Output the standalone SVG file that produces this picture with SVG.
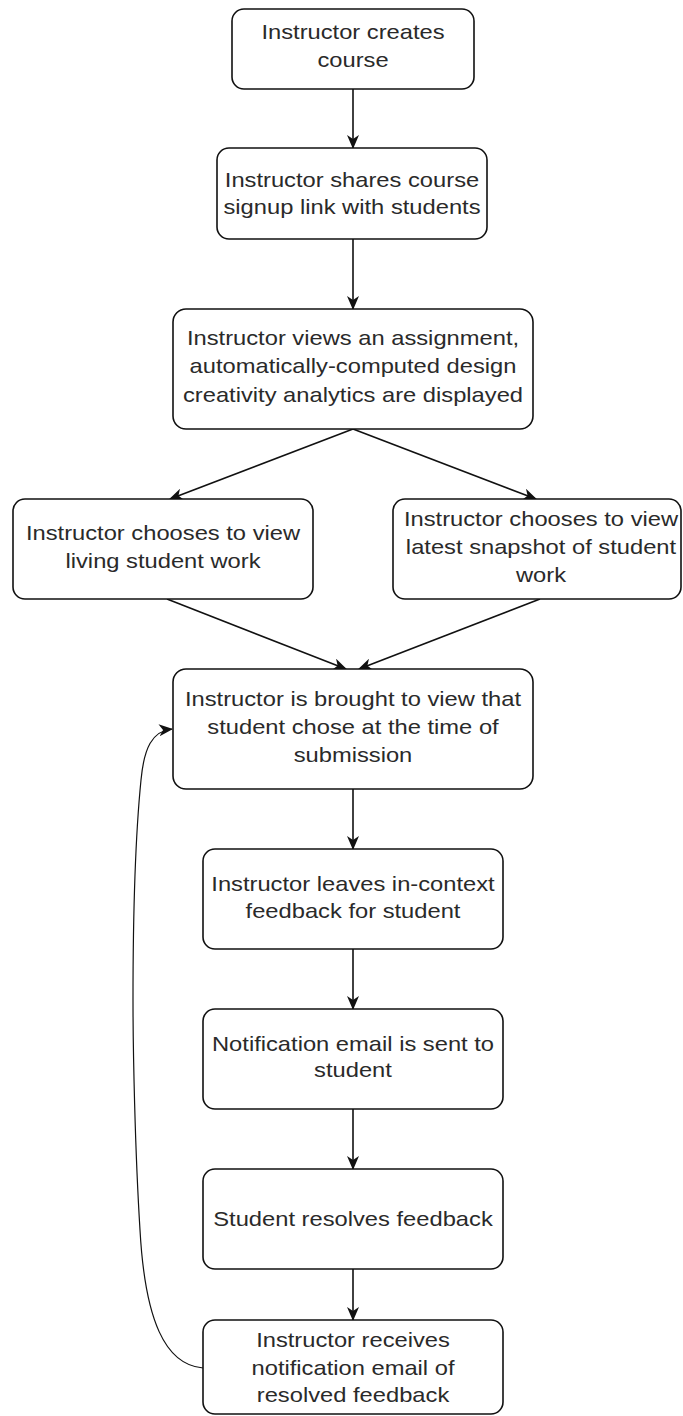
<svg xmlns="http://www.w3.org/2000/svg" width="683" height="1416" viewBox="0 0 683 1416">
<defs>
<style>
.box{fill:#ffffff;stroke:#111111;stroke-width:1.6}
.lbl{font-family:"Liberation Sans",Arial,Helvetica,sans-serif;font-size:21px;fill:#2a2a2a;text-anchor:middle}
.edge{fill:none;stroke:#111111;stroke-width:1.6}
.thin{fill:none;stroke:#111111;stroke-width:1.2}
</style>
<marker id="arr" viewBox="0 0 14 12" markerWidth="14" markerHeight="12" refX="13" refY="6" orient="auto" markerUnits="userSpaceOnUse">
<path d="M0,0 L14,6 L0,12 L4,6 z" fill="#111111"/>
</marker>
</defs>
<rect width="683" height="1416" fill="#ffffff"/>
<g id="connectors">
<line class="edge" x1="353" y1="89" x2="353" y2="148" marker-end="url(#arr)"/>
<line class="edge" x1="353" y1="239" x2="353" y2="309" marker-end="url(#arr)"/>
<line class="edge" x1="353" y1="429" x2="170" y2="499" marker-end="url(#arr)"/>
<line class="edge" x1="353" y1="429" x2="536" y2="499" marker-end="url(#arr)"/>
<line class="edge" x1="167" y1="599" x2="346" y2="669" marker-end="url(#arr)"/>
<line class="edge" x1="540" y1="599" x2="359" y2="669" marker-end="url(#arr)"/>
<line class="edge" x1="353" y1="789" x2="353" y2="849" marker-end="url(#arr)"/>
<line class="edge" x1="353" y1="949" x2="353" y2="1009" marker-end="url(#arr)"/>
<line class="edge" x1="353" y1="1109" x2="353" y2="1169" marker-end="url(#arr)"/>
<line class="edge" x1="353" y1="1269" x2="353" y2="1320" marker-end="url(#arr)"/>
<path class="thin" d="M203 1368 C165 1365 145 1320 140 1230 C135 1150 133 1050 133 1000 C133 900 137 820 141 780 C144 748 152 731 172 729" marker-end="url(#arr)"/>
</g>
<g id="n1">
<rect class="box" x="232" y="9" width="242" height="80" rx="12"/>
<text class="lbl" transform="translate(353 0) scale(1.13 1)"><tspan x="0" y="39">Instructor creates</tspan><tspan x="0" y="67">course</tspan></text>
</g>
<g id="n2">
<rect class="box" x="217" y="148" width="270" height="91" rx="12"/>
<text class="lbl" transform="translate(352 0) scale(1.13 1)"><tspan x="0" y="187">Instructor shares course</tspan><tspan x="0" y="214">signup link with students</tspan></text>
</g>
<g id="n3">
<rect class="box" x="173" y="309" width="360" height="120" rx="13"/>
<text class="lbl" transform="translate(353 0) scale(1.13 1)"><tspan x="0" y="345">Instructor views an assignment,</tspan><tspan x="0" y="373">automatically-computed design</tspan><tspan x="0" y="402">creativity analytics are displayed</tspan></text>
</g>
<g id="n4">
<rect class="box" x="13" y="499" width="300" height="100" rx="12"/>
<text class="lbl" transform="translate(163 0) scale(1.13 1)"><tspan x="0" y="540">Instructor chooses to view</tspan><tspan x="0" y="568">living student work</tspan></text>
</g>
<g id="n5">
<rect class="box" x="393" y="499" width="288" height="100" rx="12"/>
<text class="lbl" transform="translate(541 0) scale(1.13 1)"><tspan x="0" y="526">Instructor chooses to view</tspan><tspan x="0" y="554">latest snapshot of student</tspan><tspan x="0" y="582">work</tspan></text>
</g>
<g id="n6">
<rect class="box" x="173" y="669" width="360" height="120" rx="13"/>
<text class="lbl" transform="translate(353 0) scale(1.13 1)"><tspan x="0" y="706">Instructor is brought to view that</tspan><tspan x="0" y="734">student chose at the time of</tspan><tspan x="0" y="762">submission</tspan></text>
</g>
<g id="n7">
<rect class="box" x="203" y="849" width="300" height="100" rx="12"/>
<text class="lbl" transform="translate(353 0) scale(1.13 1)"><tspan x="0" y="891">Instructor leaves in-context</tspan><tspan x="0" y="918">feedback for student</tspan></text>
</g>
<g id="n8">
<rect class="box" x="203" y="1009" width="300" height="100" rx="12"/>
<text class="lbl" transform="translate(353 0) scale(1.13 1)"><tspan x="0" y="1051">Notification email is sent to</tspan><tspan x="0" y="1077">student</tspan></text>
</g>
<g id="n9">
<rect class="box" x="203" y="1169" width="300" height="100" rx="12"/>
<text class="lbl" transform="translate(353 0) scale(1.13 1)"><tspan x="0" y="1226">Student resolves feedback</tspan></text>
</g>
<g id="n10">
<rect class="box" x="203" y="1320" width="300" height="94" rx="12"/>
<text class="lbl" transform="translate(353 0) scale(1.13 1)"><tspan x="0" y="1347">Instructor receives</tspan><tspan x="0" y="1375">notification email of</tspan><tspan x="0" y="1402">resolved feedback</tspan></text>
</g>
</svg>
